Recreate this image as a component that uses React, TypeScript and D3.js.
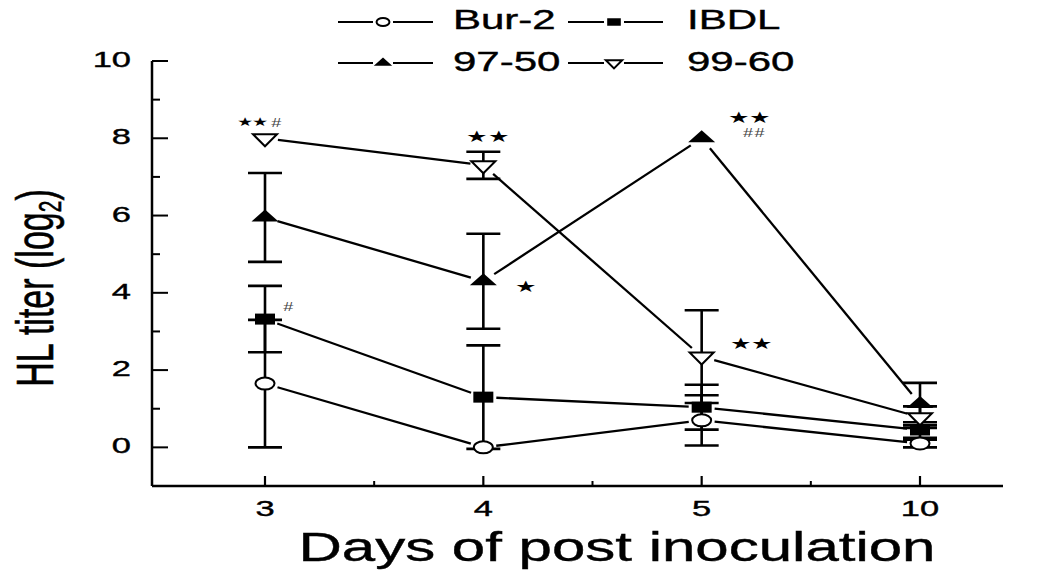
import React from "react";
import * as d3 from "d3";

// ---- data ----
const days = ["3", "4", "5", "10"];
const seriesNames = ["Bur-2", "IBDL", "97-50", "99-60"];
const bur2 = [1.65, 0, 0.7, 0.1];
const bur2Err = [1.65, 0, 0.65, 0.1];
const ibdl = [3.32, 1.3, 1.04, 0.45];
const ibdlErr = [0.86, 1.34, 0.58, 0.2];
const s9750 = [5.95, 4.3, 8.0, 1.12];
const s9750Err = [1.15, 1.23, 0, 0.55];
const s9960 = [8.0, 7.3, 2.35, 0.78];
const s9960Err = [0, 0.35, 1.2, 0.28];
const yTicks = [0, 2, 4, 6, 8, 10];
const yMinorTicks = [1, 3, 5, 7, 9];

// significance marks: series, day, text
const marks = [
  { series: "99-60", day: "3", stars: "★★", hashes: "#" },
  { series: "99-60", day: "4", stars: "★★", hashes: "" },
  { series: "97-50", day: "5", stars: "★★", hashes: "##" },
  { series: "97-50", day: "4", stars: "★", hashes: "" },
  { series: "99-60", day: "5", stars: "★★", hashes: "" },
  { series: "IBDL", day: "3", stars: "", hashes: "#" },
];

// ---- layout / style ----
const W = 1054;
const H = 573;
const SX = 1.5; // horizontal glyph stretch
const FONT = "'Liberation Sans', Arial, Helvetica, sans-serif";
const GAP = 13;

const markPlacement = [
  { sdx: -28, sdy: -12, sSize: 12, hdx: 6, hdy: -11 },
  { sdx: -17, sdy: -23, sSize: 16, hdx: 0, hdy: 0 },
  { sdx: 26, sdy: -15, sSize: 16, hdx: 41, hdy: -1 },
  { sdx: 32, sdy: 11, sSize: 16, hdx: 0, hdy: 0 },
  { sdx: 28, sdy: -8, sSize: 16, hdx: 0, hdy: 0 },
  { sdx: 0, sdy: 0, sSize: 16, hdx: 18, hdy: -8 },
];

type Shape = "circle" | "square" | "up" | "down";
const shapes: Shape[] = ["circle", "square", "up", "down"];

function Marker({ shape, x, y, s = 1 }: { shape: Shape; x: number; y: number; s?: number }) {
  const sw = 2;
  if (shape === "circle")
    return <ellipse cx={x} cy={y} rx={9.5 * s} ry={6 * s} fill="#fff" stroke="#000" strokeWidth={sw} />;
  if (shape === "square")
    return <rect x={x - 10 * s} y={y - 5.5 * s} width={20 * s} height={11 * s} fill="#000" />;
  if (shape === "up") {
    const w = 13.5 * s, h = 12 * s;
    return <polygon points={`${x - w},${y + h / 3} ${x + w},${y + h / 3} ${x},${y - (2 * h) / 3}`} fill="#000" />;
  }
  const w = 12 * s, h = 12 * s;
  return (
    <polygon
      points={`${x - w},${y - h / 3} ${x + w},${y - h / 3} ${x},${y + (2 * h) / 3}`}
      fill="#fff"
      stroke="#000"
      strokeWidth={sw}
    />
  );
}

function SText({
  x, y, size, anchor = "start", children, fill = "#000", spacing = 0, bold = 0.4,
}: {
  x: number; y: number; size: number; anchor?: string; children: any; fill?: string; spacing?: number; bold?: number;
}) {
  return (
    <text
      transform={`translate(${x},${y}) scale(${SX},1)`}
      fontSize={size}
      fontFamily={FONT}
      textAnchor={anchor as any}
      fill={fill}
      stroke={bold ? fill : "none"}
      strokeWidth={bold}
      letterSpacing={spacing}
    >
      {children}
    </text>
  );
}

export default function App() {
  const x = d3.scalePoint<string>().domain(days).range([265, 920]);
  const y = d3.scaleLinear().domain([-1, 10]).range([486, 61]);
  const x0 = 152;
  const xEnd = 1003;
  const step = x.step();

  const values = [bur2, ibdl, s9750, s9960];
  const errs = [bur2Err, ibdlErr, s9750Err, s9960Err];

  const pts = values.map((vals) => vals.map((v, i) => [x(days[i])!, y(v)] as [number, number]));

  const segs: JSX.Element[] = [];
  pts.forEach((p, si) => {
    for (let i = 0; i < p.length - 1; i++) {
      const [ax, ay] = p[i];
      const [bx, by] = p[i + 1];
      const len = Math.hypot(bx - ax, by - ay);
      const ux = (bx - ax) / len, uy = (by - ay) / len;
      segs.push(
        <line
          key={`s${si}-${i}`}
          x1={ax + ux * GAP}
          y1={ay + uy * GAP}
          x2={bx - ux * GAP}
          y2={by - uy * GAP}
          stroke="#000"
          strokeWidth={2.3}
        />
      );
    }
  });

  const bars: JSX.Element[] = [];
  values.forEach((vals, si) => {
    vals.forEach((v, i) => {
      const e = errs[si][i];
      if (!e) return;
      const cx = x(days[i])!;
      const top = y(v + e), bot = y(v - e);
      bars.push(
        <g key={`e${si}-${i}`} stroke="#000" strokeWidth={2.6}>
          <line x1={cx} x2={cx} y1={top} y2={bot} />
          <line x1={cx - 17} x2={cx + 17} y1={top} y2={top} />
          <line x1={cx - 17} x2={cx + 17} y1={bot} y2={bot} />
        </g>
      );
    });
  });

  const minorX = days.slice(0, -1).map((d) => x(d)! + step / 2);

  const legendItems = [
    { row: 0, col: 0 },
    { row: 0, col: 1 },
    { row: 1, col: 0 },
    { row: 1, col: 1 },
  ];

  return (
    <svg width={W} height={H} style={{ display: "block", position: "absolute", left: 0, top: 0, background: "#fff" }}>
      <rect width={W} height={H} fill="#fff" />
      {/* axes */}
      <g stroke="#000" strokeWidth={2.5}>
        <line x1={x0} x2={x0} y1={y(-1)} y2={y(10)} />
        <line x1={x0} x2={xEnd} y1={y(-1)} y2={y(-1)} />
        {yTicks.map((t) => (
          <line key={`yt${t}`} x1={x0} x2={x0 + 16} y1={y(t)} y2={y(t)} strokeWidth={2} />
        ))}
        {yMinorTicks.map((t) => (
          <line key={`ym${t}`} x1={x0} x2={x0 + 8} y1={y(t)} y2={y(t)} strokeWidth={2} />
        ))}
        {days.map((d) => (
          <line key={`xt${d}`} x1={x(d)} x2={x(d)} y1={y(-1)} y2={y(-1) - 10} strokeWidth={2.2} />
        ))}
        {minorX.map((mx, i) => (
          <line key={`xm${i}`} x1={mx} x2={mx} y1={y(-1)} y2={y(-1) - 5} strokeWidth={2} />
        ))}
      </g>
      {yTicks.map((t) => (
        <SText key={`yl${t}`} x={131} y={y(t) + 6} size={23} anchor="end">
          {t}
        </SText>
      ))}
      {days.map((d) => (
        <SText key={`xl${d}`} x={x(d)!} y={516} size={23} anchor="middle">
          {d}
        </SText>
      ))}
      <SText x={617} y={561} size={40} anchor="middle">
        Days of post inoculation
      </SText>
      <text
        transform={`translate(53,288) rotate(-90) scale(1,${SX})`}
        fontSize={34}
        fontFamily={FONT}
        textAnchor="middle"
        stroke="#000"
        strokeWidth={0.4}
      >
        HL titer (log
        <tspan fontSize={21} dy={5}>
          2
        </tspan>
        <tspan dy={-5}>)</tspan>
      </text>

      {/* data */}
      {bars}
      {segs}
      {pts.map((p, si) =>
        p.map(([px, py], i) => <Marker key={`m${si}-${i}`} shape={shapes[si]} x={px} y={py} />)
      )}

      {/* significance marks */}
      {marks.map((m, i) => {
        const si = seriesNames.indexOf(m.series);
        const di = days.indexOf(m.day);
        const px = x(m.day)!;
        const py = y(values[si][di]);
        const pl = markPlacement[i];
        return (
          <g key={`mk${i}`}>
            {m.stars && (
              <SText x={px + pl.sdx} y={py + pl.sdy} size={pl.sSize} spacing={0} bold={0}>
                {m.stars}
              </SText>
            )}
            {m.hashes && (
              <SText x={px + pl.hdx} y={py + pl.hdy} size={12} fill="#444" spacing={1} bold={0}>
                <tspan fontStyle="italic">{m.hashes}</tspan>
              </SText>
            )}
          </g>
        );
      })}

      {/* legend */}
      {legendItems.map((it, i) => {
        const lx = it.col === 0 ? 338 : 568;
        const ly = it.row === 0 ? 22 : 63;
        const tx = it.col === 0 ? 453 : 687;
        const ty = it.row === 0 ? 29 : 71;
        const mx = lx + (it.col === 0 ? 45 : 46);
        return (
          <g key={`lg${i}`}>
            <line x1={lx} x2={lx + 95} y1={ly} y2={ly} stroke="#000" strokeWidth={2} />
            <rect x={mx - 10} y={ly - 7} width={20} height={14} fill="#fff" />
            <Marker shape={shapes[i]} x={mx} y={ly} s={0.68} />
            <SText x={tx} y={ty} size={28}>
              {seriesNames[i]}
            </SText>
          </g>
        );
      })}
    </svg>
  );
}
